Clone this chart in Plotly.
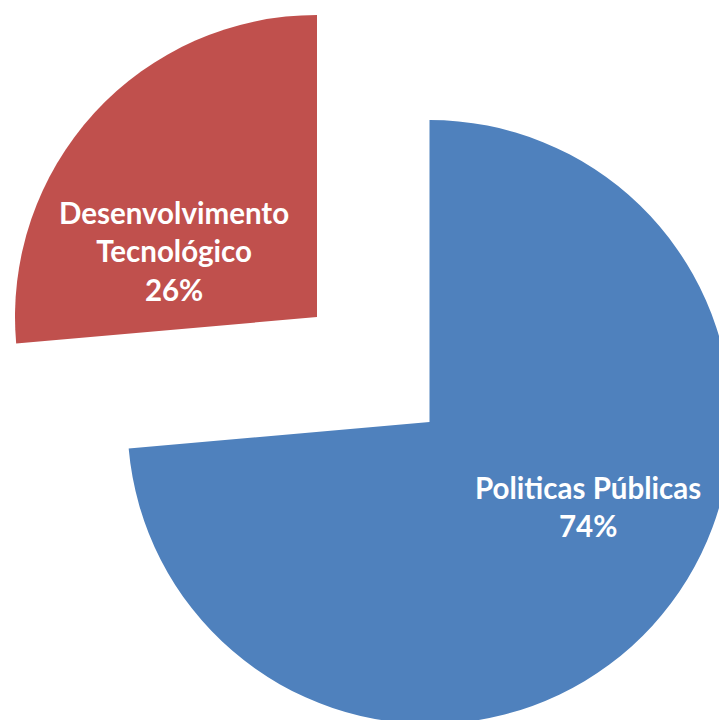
import plotly.graph_objects as go

# Data
labels = ["Politicas Públicas", "Desenvolvimento Tecnológico"]
label_text = ["Politicas Públicas", "Desenvolvimento<br>Tecnológico"]
values = [73.6, 26.4]
colors = ["#4F81BD", "#C0504D"]

# Layout (pixels)
W, H = 740, 740
R = 302
apex = [(429.5, 422), (317, 317)]      # exploded slice apex positions
text_pos = [(588, 506), (174, 251)]     # label centers

total = sum(values)

fig = go.Figure()
for i in range(len(values)):
    cx, cy = apex[i]
    slice_colors = ["rgba(0,0,0,0)"] * len(values)
    slice_colors[i] = colors[i]
    fig.add_trace(go.Pie(
        labels=labels,
        values=values,
        sort=False,
        direction="clockwise",
        rotation=0,
        marker=dict(colors=slice_colors, line=dict(width=0)),
        textinfo="none",
        hoverinfo="skip",
        showlegend=False,
        domain=dict(
            x=[(cx - R) / W, (cx + R) / W],
            y=[(H - (cy + R)) / H, (H - (cy - R)) / H],
        ),
    ))

for i in range(len(values)):
    pct = round(100 * values[i] / total)
    tx, ty = text_pos[i]
    fig.add_annotation(
        x=tx / W, y=1 - ty / H, xref="paper", yref="paper",
        text=f"{label_text[i]}<br>{pct}%",
        showarrow=False, align="center",
        xanchor="center", yanchor="middle",
        font=dict(family="Lato", size=29.5, color="white", weight="bold"),
    )

fig.update_layout(
    width=W, height=H,
    margin=dict(l=0, r=0, t=0, b=0),
    paper_bgcolor="white", plot_bgcolor="white",
    showlegend=False,
)

fig.write_html("out.html")
